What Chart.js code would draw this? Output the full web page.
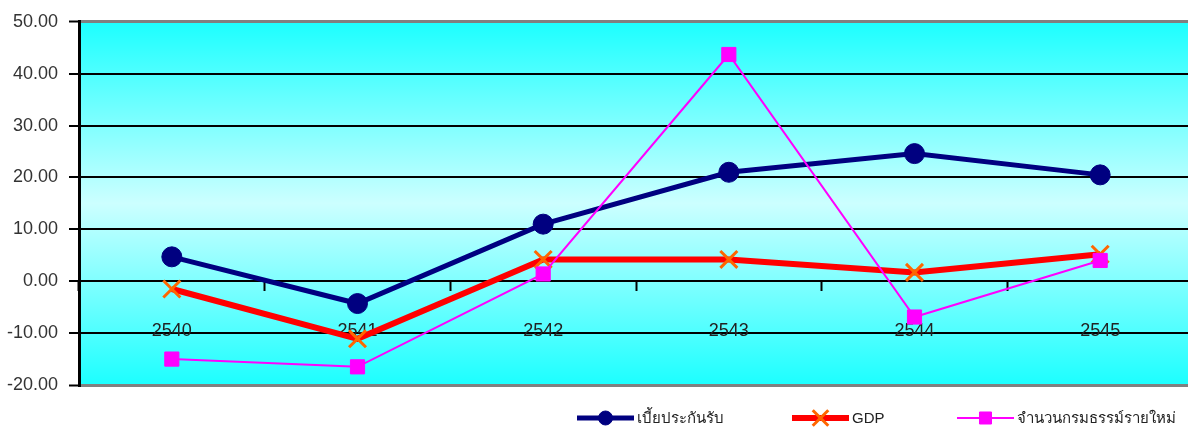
<!DOCTYPE html>
<html>
<head>
<meta charset="utf-8">
<script src="https://cdn.jsdelivr.net/npm/chart.js@4.4.1/dist/chart.umd.min.js"></script>
<style>
  html, body { margin: 0; padding: 0; background: #ffffff; overflow: hidden; }
  #wrap { position: relative; width: 1193px; height: 430px; }
</style>
</head>
<body>
<div id="wrap"><canvas id="c"></canvas></div>
<script>
// Growth rates (%) by Buddhist-era year
const years = ['2540', '2541', '2542', '2543', '2544', '2545'];
const premiumGrowth = [4.7, -4.3, 11.0, 21.0, 24.6, 20.5];
const gdpGrowth = [-1.5, -11.1, 4.2, 4.2, 1.7, 5.2];
const newPolicyGrowth = [-15.0, -16.5, 1.4, 43.7, -6.9, 4.0];
const seriesNames = ['เบี้ยประกันรับ', 'GDP', 'จำนวนกรมธรรม์รายใหม่'];
const yRange = { min: -20, max: 50, step: 10 };

const FONT = '"Liberation Sans", Arial, "DejaVu Sans", sans-serif';

// Cyan band behind the plot, lightest through the middle
const plotBackground = {
  id: 'plotBackground',
  beforeDraw(chart) {
    const { ctx, chartArea: a } = chart;
    const g = ctx.createLinearGradient(0, a.top, 0, a.bottom);
    g.addColorStop(0, '#1CFFFF');
    g.addColorStop(0.5, '#CCFFFF');
    g.addColorStop(1, '#1CFFFF');
    ctx.save();
    ctx.fillStyle = g;
    ctx.fillRect(a.left, a.top, a.right - a.left, a.bottom - a.top);
    ctx.restore();
  }
};

// Legend drawn as line samples with their markers, in fixed columns
const lineLegend = {
  id: 'lineLegend',
  afterDraw(chart, args, opts) {
    const ctx = chart.ctx;
    chart.data.datasets.forEach((ds, i) => {
      const x0 = opts.columns[i];
      const y = opts.y;
      const len = opts.lineLength;
      ctx.save();
      ctx.strokeStyle = ds.borderColor;
      ctx.lineWidth = ds.borderWidth;
      ctx.beginPath();
      ctx.moveTo(x0, y);
      ctx.lineTo(x0 + len, y);
      ctx.stroke();
      ctx.fillStyle = ds.pointBackgroundColor;
      ctx.strokeStyle = ds.pointBorderColor;
      ctx.lineWidth = ds.pointBorderWidth;
      Chart.helpers.drawPoint(ctx, {
        pointStyle: ds.pointStyle,
        radius: opts.markerRadius[i],
        borderWidth: ds.pointBorderWidth,
        rotation: 0
      }, x0 + len / 2, y);
      ctx.fillStyle = '#222222';
      ctx.font = '15px ' + FONT;
      ctx.textAlign = 'left';
      ctx.textBaseline = 'middle';
      ctx.fillText(ds.label, x0 + len + 3, y + 1);
      ctx.restore();
    });
  }
};

const edgeValue = (v) => v === yRange.max || v === yRange.min;

new Chart(document.getElementById('c'), {
  type: 'line',
  data: {
    labels: years,
    datasets: [
      {
        label: seriesNames[0],
        data: premiumGrowth,
        borderColor: '#000080',
        borderWidth: 5,
        pointStyle: 'circle',
        pointRadius: 10,
        pointBackgroundColor: '#000080',
        pointBorderColor: '#000080',
        pointBorderWidth: 1,
        order: 2
      },
      {
        label: seriesNames[1],
        data: gdpGrowth,
        borderColor: '#FF0000',
        borderWidth: 6,
        pointStyle: 'crossRot',
        pointRadius: 12,
        pointBackgroundColor: '#FF6600',
        pointBorderColor: '#FF6600',
        pointBorderWidth: 3,
        order: 1
      },
      {
        label: seriesNames[2],
        data: newPolicyGrowth,
        borderColor: '#FF00FF',
        borderWidth: 2,
        pointStyle: 'rect',
        pointRadius: 10,
        pointBackgroundColor: '#FF00FF',
        pointBorderColor: '#FF00FF',
        pointBorderWidth: 1,
        order: 0
      }
    ]
  },
  options: {
    responsive: true,
    maintainAspectRatio: false,
    devicePixelRatio: 1,
    animation: false,
    events: [],
    layout: { autoPadding: false, padding: { top: 19, bottom: 45, left: 0, right: 0 } },
    scales: {
      x: {
        type: 'category',
        position: { y: 0 },
        offset: true,
        afterFit(scale) { scale.paddingLeft = 0; scale.paddingRight = 0; },
        border: { display: false },
        grid: {
          offset: true,
          drawOnChartArea: false,
          drawTicks: true,
          tickLength: 10,
          tickWidth: 2,
          tickColor: '#000000'
        },
        ticks: {
          padding: 29,
          color: '#222222',
          font: { family: FONT, size: 18 },
          maxRotation: 0
        }
      },
      y: {
        min: yRange.min,
        max: yRange.max,
        afterFit(scale) { scale.width = 79; },
        border: { display: true, color: '#000000', width: 3 },
        grid: {
          color: (c) => edgeValue(c.tick.value) ? '#808080' : '#000000',
          lineWidth: (c) => edgeValue(c.tick.value) ? 3 : 2,
          drawTicks: true,
          tickLength: 10,
          tickColor: '#000000',
          tickWidth: 2
        },
        ticks: {
          stepSize: yRange.step,
          padding: 11,
          color: '#333333',
          font: { family: FONT, size: 18 },
          callback: (v) => Number(v).toFixed(2)
        }
      }
    },
    plugins: {
      legend: { display: false },
      tooltip: { enabled: false },
      lineLegend: {
        columns: [577, 792, 957],
        y: 418,
        lineLength: 57,
        markerRadius: [7, 11, 8.5]
      }
    }
  },
  plugins: [plotBackground, lineLegend]
});
</script>
</body>
</html>
